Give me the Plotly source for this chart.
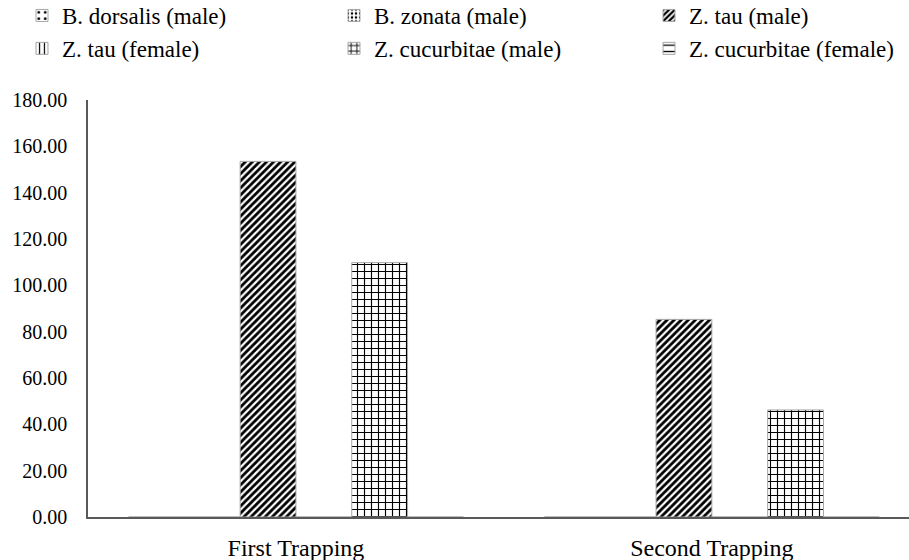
import plotly.graph_objects as go

# Mean catch per trap, by trapping round
categories = ["First Trapping", "Second Trapping"]
series_names = [
    "B. dorsalis (male)",
    "B. zonata (male)",
    "Z. tau (male)",
    "Z. tau (female)",
    "Z. cucurbitae (male)",
    "Z. cucurbitae (female)",
]
b_dorsalis_male = [0.0, 0.0]
b_zonata_male = [0.0, 0.0]
z_tau_male = [153.5, 85.3]
z_tau_female = [0.0, 0.0]
z_cucurbitae_male = [109.8, 46.2]
z_cucurbitae_female = [0.0, 0.0]

series_values = [
    b_dorsalis_male,
    b_zonata_male,
    z_tau_male,
    z_tau_female,
    z_cucurbitae_male,
    z_cucurbitae_female,
]

# Black-and-white fill patterns, one per species/sex
patterns = [
    dict(shape=".", size=8, solidity=0.15),
    dict(shape=".", size=5, solidity=0.3),
    dict(shape="/", size=5, solidity=0.55),
    dict(shape="|", size=6, solidity=0.25),
    dict(shape="+", size=7, solidity=0.3),
    dict(shape="-", size=8, solidity=0.2),
]

# The legend is laid out as three columns of two entries
legend_ids = ["legend", "legend2", "legend3", "legend", "legend2", "legend3"]

FONT = "Liberation Serif"
W, H = 909, 560
ML, MR, MT, MB = 88, 0, 100, 43
PLOT_W = W - ML - MR
PLOT_H = H - MT - MB

fig = go.Figure()
for name, vals, pat, lg in zip(series_names, series_values, patterns, legend_ids):
    fig.add_trace(
        go.Bar(
            name=name,
            x=categories,
            y=vals,
            legend=lg,
            marker=dict(
                color="white",
                line=dict(color="#a6a6a6", width=1),
                pattern=dict(fgcolor="black", bgcolor="white", fillmode="replace", **pat),
            ),
        )
    )

legend_style = dict(
    orientation="v",
    xref="paper",
    xanchor="left",
    yref="paper",
    y=1 + (MT + 6) / PLOT_H,
    yanchor="top",
    font=dict(family=FONT, size=23, color="black"),
    itemwidth=30,
    tracegroupgap=0,
    bgcolor="rgba(0,0,0,0)",
)

def col_x(px):
    return (px - ML) / PLOT_W

fig.update_layout(
    width=W,
    height=H,
    paper_bgcolor="white",
    plot_bgcolor="white",
    margin=dict(l=ML, r=MR, t=MT, b=MB, autoexpand=False),
    barmode="group",
    bargap=0.195,
    bargroupgap=0,
    font=dict(family=FONT, color="black", size=20),
    legend=dict(x=col_x(22), **legend_style),
    legend2=dict(x=col_x(334), **legend_style),
    legend3=dict(x=col_x(649), **legend_style),
    showlegend=True,
)

fig.update_xaxes(
    range=[-0.5, 1.474],
    showline=True,
    linecolor="#595959",
    linewidth=1.5,
    showgrid=False,
    ticks="",
    ticklabelstandoff=8,
    tickfont=dict(family=FONT, size=24, color="black"),
)
fig.update_yaxes(
    range=[0, 180],
    dtick=20,
    tickformat=".2f",
    showline=True,
    linecolor="#595959",
    linewidth=1.5,
    showgrid=False,
    zeroline=False,
    ticks="",
    ticklabelstandoff=15,
    tickfont=dict(family=FONT, size=20, color="black"),
)

fig.write_html("out.html")
